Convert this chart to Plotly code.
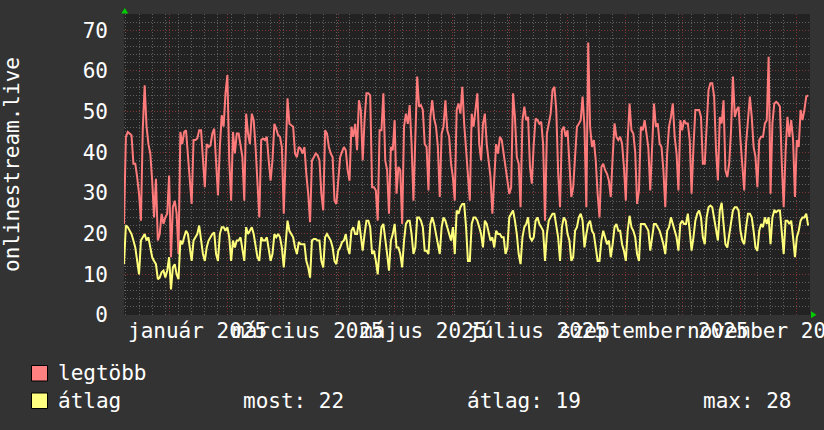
import plotly.graph_objects as go
import pandas as pd

# ---------------- data ----------------
start_date = "2024-12-08"

legtobb = [
    22.4, 43.8, 45, 44.6, 44.2, 37.2, 37.2, 33.9, 29.8, 23.2,
    45.8, 56.5, 46.3, 42, 39.7, 33, 24, 33.5, 18.3, 19.9,
    24.9, 22.4, 24, 24.9, 34.3, 14.2, 26.5, 28.1, 24.9, 15,
    45, 42, 45, 45.4, 39.7, 33, 27.3, 43, 43, 43.4,
    45.4, 45.4, 38.8, 31.4, 42, 41.3, 41.7, 44.6, 45.8, 38,
    29.4, 41.3, 49.1, 46.3, 54.5, 59, 38, 28.1, 45, 39.7,
    44.6, 44.6, 42, 38.8, 28.1, 49.5, 44.6, 42, 49.5, 47.9,
    41.3, 33, 24, 43, 43.4, 43, 43.8, 38, 33, 38,
    47, 45.8, 44.2, 43.8, 41.3, 24.9, 38, 53.3, 47, 46.7,
    46.3, 39.7, 38.8, 41.3, 40.9, 39.7, 41.3, 34.7, 29.8, 22.8,
    38, 38.8, 39.7, 39.3, 38, 29.8, 25.7, 45.4, 44.6, 41.3,
    39.7, 38.8, 28.1, 27.3, 33, 38.8, 40.1, 41.3, 40.5, 35.6,
    33, 46.3, 43.8, 47, 40.5, 52.8, 50.4, 38, 47.9, 54.5,
    54.5, 54, 31.4, 31.4, 30.6, 23.2, 45.4, 45.4, 54.5, 38,
    35.6, 24.9, 41.3, 40.5, 47.9, 29.8, 36.4, 35.6, 22.4, 46.3,
    49.5, 47, 51.6, 42, 28.1, 41.3, 58.6, 51.2, 51.6, 50.4,
    42, 41.3, 30.6, 48.7, 52.8, 48.3, 46.3, 41.3, 29, 44.6,
    46.3, 52.8, 45.4, 43.8, 37.2, 33.9, 28.1, 50.4, 52, 49.5,
    56.1, 47, 40.5, 32.3, 28.1, 49.5, 46.3, 50.4, 54.5, 42,
    38, 47, 49.5, 42, 38, 33.9, 24.9, 33, 42, 39.7,
    43.8, 43, 39.7, 36.4, 32.3, 29.8, 31.4, 54.5, 48.7, 38.8,
    37.2, 26.5, 47.9, 51.2, 47.9, 48.7, 36.4, 32.3, 42, 48.3,
    47.9, 47, 47.5, 42, 23.2, 44.6, 47, 49.5, 55.3, 56.1,
    50.4, 35, 26.5, 45.4, 46.3, 43.8, 45.4, 38, 29, 31.4,
    40, 46.3, 47, 47.9, 53.7, 46.3, 26.5, 67, 46.3, 41.3,
    43, 38, 29.8, 24, 36.4, 37.2, 35.6, 34.7, 33, 29,
    38.8, 47.1, 43.8, 43, 43.8, 42.1, 36.4, 28.1, 43, 52,
    45.4, 44.6, 40, 27.3, 30.6, 46.3, 45.4, 47.9, 44.6, 41,
    30.6, 43, 52, 46.3, 47.1, 42.1, 41.3, 35.6, 26.5, 39.7,
    46.3, 48.7, 52, 43.8, 39.7, 30.6, 47.9, 45.4, 47.9, 47.1,
    47.1, 43, 29.8, 41.3, 50.4, 50.4, 50.4, 48.7, 37.2, 37.2,
    46.3, 55.3, 57, 57, 53.7, 40.5, 33.1, 48.7, 47.1, 52.8,
    35.6, 33.9, 37.2, 45.4, 58.6, 48.7, 50.4, 51.2, 43, 35.6,
    30.6, 42.1, 48.7, 53.7, 48.7, 41.3, 38.8, 31.4, 43, 43.8,
    43.8, 47.1, 47.9, 63.5, 29.8, 47.1, 52, 52.4, 52, 51.2,
    37.2, 26.5, 40, 48.7, 43.8, 47.9, 43, 29, 43, 41.3,
    50.4, 47.9, 50.4, 53.7, 54,
]

atlag = [
    12.5, 22, 21.6, 20.7, 19.9, 18.3, 16.6, 13.3, 10, 18.3,
    19.1, 19.9, 18.3, 19.1, 16.6, 14.2, 13.3, 12.5, 8.8, 9.2,
    10.5, 10.9, 9.2, 10.9, 14.2, 6.3, 11.7, 12.5, 10, 8.8,
    18.3, 17.4, 19.1, 20.7, 19.9, 15.8, 13.3, 18.3, 19.1, 19.9,
    22, 18.3, 15, 13.3, 16.6, 18.3, 19.1, 19.9, 20.3, 15,
    13.3, 19.9, 21.6, 21.6, 20.7, 21.6, 19.1, 13.3, 18.3, 16.6,
    18.3, 18.3, 19.1, 16.6, 13.3, 21.6, 19.9, 20.7, 21.6, 19.9,
    16.6, 14.2, 13.3, 19.1, 18.3, 18.3, 19.1, 16.6, 13.3, 15,
    19.9, 19.1, 19.9, 19.1, 16.6, 11.7, 18.3, 23.2, 20.7, 19.9,
    19.1, 16.6, 15, 17.9, 17.4, 17.4, 17.4, 13.3, 11.7, 9.2,
    18.3, 18.7, 18.7, 18.3, 18.3, 13.3, 11.7, 19.1, 19.9, 19.1,
    18.3, 16.6, 13.3, 12.5, 15.8, 16.6, 17.9, 18.3, 19.9, 16.6,
    15, 20.7, 21.6, 19.9, 19.9, 23.2, 19.9, 15.8, 19.9, 23.2,
    23.2, 21.6, 15, 15.8, 13.3, 10, 16.6, 21.6, 22.4, 19.1,
    15, 10.9, 18.3, 19.9, 22.4, 16.6, 16.6, 15, 11.7, 18.3,
    22.4, 23.2, 23.2, 19.9, 15, 16.6, 24, 24, 23.2, 21.6,
    15.8, 15.8, 15, 22.4, 24, 22.4, 19.9, 18.3, 15, 21.6,
    24, 23.2, 21.6, 19.9, 18.3, 21.6, 15, 25.7, 24.9, 26.5,
    27.3, 27.3, 21.6, 13.3, 13.3, 22.4, 24, 24, 23.2, 21.6,
    19.9, 16.6, 23.2, 22.4, 19.9, 18.3, 19.1, 16.6, 20.7, 19.9,
    19.9, 19.1, 19.1, 15, 16.6, 24, 24.9, 25.7, 23.2, 19.9,
    15, 12.5, 19.1, 21.6, 22.4, 24, 19.1, 18.3, 19.1, 23.2,
    24, 22.4, 21.6, 20.7, 13.3, 19.9, 23.2, 24, 24.9, 24.9,
    22.4, 19.1, 13.3, 21.6, 24, 23.2, 19.9, 18.3, 13.3, 14.2,
    20.7, 21.6, 24, 24.9, 23.2, 16.6, 19.9, 22.4, 23.2, 20.7,
    19.9, 16.6, 13.3, 13.3, 18.3, 20.7, 19.1, 17.4, 18.3, 14.2,
    17.4, 21.6, 22.4, 20.7, 20.7, 17.4, 15.8, 13.3, 20.7, 24.4,
    21.6, 20.7, 19.1, 15, 13.3, 22.4, 22.4, 22.4, 21.6, 20.7,
    15.8, 19.1, 22.4, 22.4, 21.6, 20.7, 19.1, 17.4, 15, 20.7,
    21.6, 24, 22.4, 20.7, 19.1, 15.8, 22.4, 23.2, 22.4, 22.4,
    24.9, 20.7, 15.8, 19.1, 23.2, 24.9, 25.7, 24, 19.1, 17.4,
    24, 26.5, 26.9, 26.5, 24, 21.6, 18.3, 25.7, 27.6, 22.4,
    17.4, 16.6, 19.9, 22.4, 25.7, 26.5, 26.5, 25.7, 20.7, 18.3,
    17.4, 21.6, 24.9, 24.9, 24, 20.7, 16.6, 15.8, 20.7, 22.4,
    21.6, 24, 22.4, 24, 17.4, 24, 25.7, 25.3, 25.7, 25.7,
    19.1, 15, 23.2, 23.2, 22.4, 23.2, 19.1, 14.2, 19.1, 20.7,
    23.2, 24, 24, 24.9, 22,
]

series_names = ["legtöbb", "átlag"]
y_ticks = [0, 10, 20, 30, 40, 50, 60, 70]
x_label_dates = ["2025-01-16", "2025-03-16", "2025-05-16",
                 "2025-07-16", "2025-09-16", "2025-11-16"]
x_label_texts = ["január 2025", "március 2025", "május 2025",
                 "július 2025", "szeptember 2025", "november 2025"]
stats_texts = ["most: 22", "átlag: 19", "max: 28"]
y_title = "onlinestream.live"

dates = pd.date_range(start_date, periods=len(legtobb), freq="D")
month_starts = pd.date_range("2024-12-01", "2025-12-01", freq="MS")

# ---------------- styling ----------------
W, H = 824, 430
L, R, T, B = 124, 14, 14, 115
PW, PH = W - L - R, H - T - B
FONT = "DejaVu Sans Mono"
FS = 21
PINK = "#ff7b7b"
YELLOW = "#ffff7b"
MAJOR = "#803333"
MINOR = "#606060"
DASH = "1px,2px"


def px(x):
    return (x - L) / PW


def py(y):
    return (H - B - y) / PH


fig = go.Figure()
fig.add_trace(go.Scatter(x=dates, y=legtobb, mode="lines", name=series_names[0],
                         line=dict(color=PINK, width=2), hoverinfo="skip"))
fig.add_trace(go.Scatter(x=dates, y=atlag, mode="lines", name=series_names[1],
                         line=dict(color=YELLOW, width=2), hoverinfo="skip"))

fig.update_layout(
    width=W, height=H,
    margin=dict(l=L, r=R, t=T, b=B, pad=0),
    paper_bgcolor="#333333",
    plot_bgcolor="#222222",
    showlegend=False,
    font=dict(family=FONT, size=FS, color="#ffffff"),
    xaxis=dict(
        type="date",
        range=["2024-12-08", "2025-12-08"],
        tickmode="array", tickvals=month_starts,
        showticklabels=False, ticks="",
        showgrid=True, gridcolor=MAJOR, gridwidth=1, griddash=DASH,
        minor=dict(tickmode="linear", tick0="2024-12-09", dtick=7 * 86400000,
                   showgrid=True, gridcolor=MINOR, gridwidth=1, griddash=DASH, ticks=""),
        zeroline=False, showline=False,
    ),
    yaxis=dict(
        range=[0, 74],
        tickmode="array", tickvals=y_ticks, ticktext=[str(v) for v in y_ticks],
        ticks="", ticklabelstandoff=15,
        tickfont=dict(family=FONT, size=FS, color="#ffffff"),
        showgrid=True, gridcolor=MAJOR, gridwidth=1, griddash=DASH,
        minor=dict(tickmode="linear", tick0=0, dtick=2, showgrid=True,
                   gridcolor=MINOR, gridwidth=1, griddash=DASH, ticks=""),
        zeroline=False, showline=False,
    ),
)

annotations = []
# month labels
for d, t in zip(x_label_dates, x_label_texts):
    annotations.append(dict(x=d, xref="x", y=py(331), yref="paper", text=t,
                            showarrow=False, xanchor="center", yanchor="middle",
                            font=dict(family=FONT, size=FS, color="#ffffff")))
# y title
annotations.append(dict(x=px(12), y=py(165), xref="paper", yref="paper", text=y_title,
                        textangle=-90, showarrow=False, xanchor="center", yanchor="middle",
                        font=dict(family=FONT, size=FS, color="#ffffff")))
# legend texts
annotations.append(dict(x=px(56), y=py(373), xref="paper", yref="paper", text=series_names[0],
                        showarrow=False, xanchor="left", yanchor="middle",
                        font=dict(family=FONT, size=FS, color="#ffffff")))
annotations.append(dict(x=px(56), y=py(401), xref="paper", yref="paper", text=series_names[1],
                        showarrow=False, xanchor="left", yanchor="middle",
                        font=dict(family=FONT, size=FS, color="#ffffff")))
for xpos, t in zip([241, 465, 701], stats_texts):
    annotations.append(dict(x=px(xpos), y=py(401), xref="paper", yref="paper", text=t,
                            showarrow=False, xanchor="left", yanchor="middle",
                            font=dict(family=FONT, size=FS, color="#ffffff")))
fig.update_layout(annotations=annotations)

shapes = []
# legend swatches
for (y0, y1), col in zip([(365.5, 381), (393, 408.5)], ["#ff8080", "#ffff80"]):
    shapes.append(dict(type="rect", xref="paper", yref="paper",
                       x0=px(31.5), x1=px(47.5), y0=py(y1), y1=py(y0),
                       fillcolor=col, line=dict(color="#000000", width=1)))
# green arrows
top_arrow = "M {},{} L {},{} L {},{} Z".format(px(124.8), py(8), px(121.3), py(13.5), px(128.3), py(13.5))
right_arrow = "M {},{} L {},{} L {},{} Z".format(px(816.5), py(314.7), px(811), py(311.2), px(811), py(318.2))
for p in (top_arrow, right_arrow):
    shapes.append(dict(type="path", xref="paper", yref="paper", path=p,
                       fillcolor="#00cc00", line=dict(color="#00cc00", width=0)))
fig.update_layout(shapes=shapes)

fig.write_html("out.html", config={"displayModeBar": False},
               post_script="document.body.style.margin='0px';")
